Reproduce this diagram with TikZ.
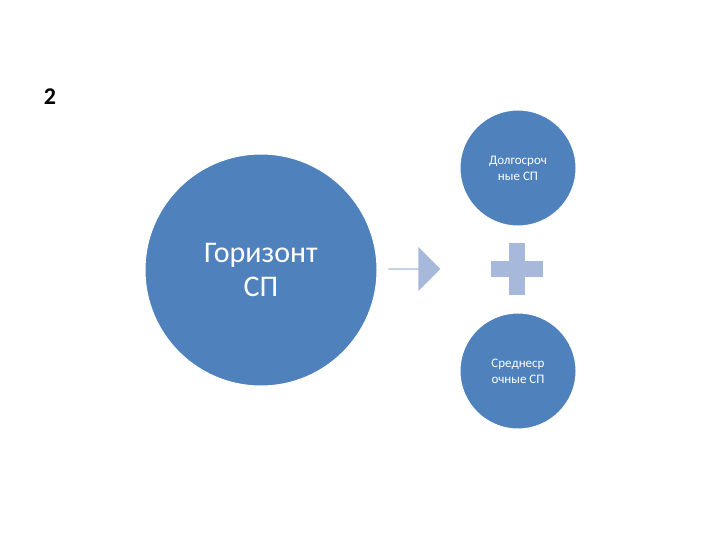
\documentclass[tikz,border=0pt]{standalone}
\usepackage{fontspec}
\setmainfont{Carlito}
\usetikzlibrary{shapes.arrows}
\definecolor{cblue}{HTML}{4F81BD}
\definecolor{clight}{HTML}{A7B9DA}
\begin{document}
\begin{tikzpicture}[x=1pt,y=-1pt,
  circ/.style={circle,fill=cblue,draw=white,line width=1pt,text=white,align=center,inner sep=0pt}]
\useasboundingbox (0,0) rectangle (720,540);
\fill[white] (0,0) rectangle (720,540);
\node[font=\bfseries\fontsize{24}{28}\selectfont] (num) at (50,97) {2};
\node[circ,minimum size=232pt,font=\fontsize{30}{34}\selectfont] (big) at (261,270) {Горизонт\\СП};
\node[circ,minimum size=116pt,font=\fontsize{13}{16}\selectfont] (top) at (518,168) {Долгосроч\\ные СП};
\node[circ,minimum size=116pt,font=\fontsize{13}{16}\selectfont] (bot) at (518,371) {Среднеср\\очные СП};
\node[single arrow,fill=clight,minimum height=52pt,minimum width=44pt,single arrow head extend=8pt,inner sep=0pt,
  single arrow tip angle=90] (arr) at (414,269) {};
\node[fill=clight,minimum width=52pt,minimum height=16pt,inner sep=0pt] (ph) at (517,269) {};
\node[fill=clight,minimum width=16pt,minimum height=52pt,inner sep=0pt] (pv) at (517,269) {};
\end{tikzpicture}
\end{document}
